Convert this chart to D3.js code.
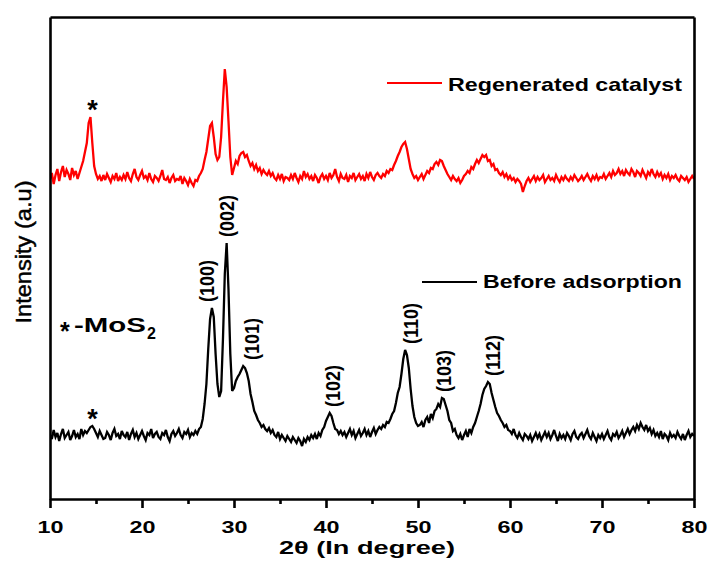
<!DOCTYPE html>
<html>
<head>
<meta charset="utf-8">
<script src="https://cdn.jsdelivr.net/npm/d3@7"></script>
<style>
  html, body { margin: 0; padding: 0; background: #ffffff; }
  svg { display: block; font-family: "Liberation Sans", Arial, Helvetica, sans-serif; }
</style>
</head>
<body>
<svg id="chart" width="714" height="561"></svg>
<script>
// XRD patterns, sampled every 0.2 degrees of 2-theta from 10 to 80
const angleStart = 10;
const angleStep = 0.2;

const beforeAdsorption = [
  640, 600, 690, 620, 660, 580, 650, 700, 610, 640,
  670, 590, 630, 690, 620, 650, 600, 700, 640, 680,
  660, 690, 720, 730, 700, 660, 620, 680, 640, 600,
  610, 670, 640, 590, 660, 700, 630, 650, 600, 680,
  640, 620, 670, 590, 650, 690, 620, 660, 600, 640,
  680, 630, 590, 660, 640, 700, 610, 650, 670, 620,
  600, 660, 640, 690, 620, 580, 650, 680, 630, 660,
  700, 640, 610, 670, 650, 690, 620, 660, 640, 680,
  650, 700, 720, 800, 950, 1150, 1500, 1800, 1910, 1820,
  1450, 1150, 1020, 1080, 1600, 2250, 2560, 2100, 1450, 1080,
  1110, 1180, 1220, 1250, 1290, 1330, 1310, 1260, 1180, 1050,
  970, 880, 840, 790, 760, 720, 740, 700, 680, 710,
  660, 690, 640, 620, 670, 600, 640, 610, 580, 630,
  600, 570, 620, 590, 560, 610, 580, 530, 600, 570,
  620, 590, 640, 610, 650, 600, 660, 630, 690, 720,
  780, 820, 860, 830, 760, 700, 690, 650, 680, 640,
  670, 620, 660, 700, 640, 680, 610, 650, 690, 630,
  660, 700, 640, 680, 620, 670, 710, 650, 690, 720,
  700, 740, 720, 770, 760, 800, 850, 880, 960, 1060,
  1120, 1250, 1400, 1490, 1440, 1310, 1100, 930, 820, 760,
  730, 740, 770, 720, 790, 820, 760, 850, 810, 880,
  900, 950, 920, 1010, 1000, 940, 880, 790, 760, 680,
  700, 640, 610, 650, 590, 640, 680, 620, 700, 660,
  720, 760, 820, 880, 950, 1040, 1100, 1130, 1170, 1150,
  1060, 990, 920, 860, 830, 790, 760, 720, 740, 690,
  680, 650, 700, 640, 610, 660, 620, 590, 650, 630,
  600, 640, 580, 620, 660, 610, 650, 590, 630, 670,
  620, 660, 600, 640, 690, 630, 580, 650, 610, 640,
  600, 660, 630, 590, 650, 680, 620, 600, 640, 660,
  610, 650, 690, 630, 600, 660, 620, 580, 640, 610,
  650, 600, 640, 680, 620, 590, 650, 630, 670, 610,
  640, 680, 620, 660, 700, 650, 690, 720, 680, 740,
  700, 760, 720, 690, 740, 680, 710, 650, 690, 630,
  660, 620, 680, 600, 650, 630, 590, 660, 620, 640,
  610, 670, 630, 600, 650, 590, 640, 680, 620, 650,
  630
];

const regeneratedCatalyst = [
  3200, 3260, 3150, 3240, 3300, 3180, 3270, 3330, 3220, 3290,
  3250, 3190, 3310, 3240, 3280, 3200, 3260, 3320, 3380, 3470,
  3560, 3760, 3820, 3560, 3330, 3250, 3200, 3230, 3180, 3240,
  3190, 3250, 3210, 3170, 3230, 3200, 3260, 3180, 3220, 3190,
  3240, 3200, 3270, 3210, 3180, 3250, 3300, 3220, 3190, 3240,
  3280, 3210, 3230, 3190, 3260, 3200, 3170, 3230, 3210, 3180,
  3230, 3290, 3200, 3190, 3220, 3160, 3210, 3240, 3180, 3200,
  3190, 3230, 3150, 3210, 3180, 3140, 3200, 3160, 3130, 3190,
  3180, 3230, 3260, 3300, 3390, 3470, 3600, 3730, 3760, 3620,
  3450, 3390, 3420, 3620, 3980, 4300, 4120, 3780, 3420, 3240,
  3310, 3380, 3350, 3430, 3460, 3470, 3420, 3440, 3380, 3330,
  3360, 3300, 3340, 3280, 3310, 3250, 3290, 3260, 3240, 3280,
  3230, 3260, 3210, 3190, 3240, 3200, 3250, 3180, 3220, 3210,
  3190, 3240, 3200, 3260, 3210, 3170, 3230, 3200, 3280, 3220,
  3250, 3200, 3230, 3180, 3240, 3210, 3160, 3220, 3250, 3200,
  3230, 3190, 3260, 3210, 3240, 3300, 3220, 3180, 3250, 3210,
  3200, 3240, 3170, 3230, 3210, 3260, 3190, 3220, 3250, 3200,
  3230, 3180, 3250, 3210, 3270, 3220, 3190, 3240, 3260, 3230,
  3210, 3250, 3230, 3280, 3260, 3300, 3290, 3340, 3380, 3430,
  3470, 3520, 3550, 3570, 3500, 3400, 3300, 3250, 3210, 3230,
  3190, 3220, 3250, 3200, 3240, 3280, 3260, 3310, 3300, 3350,
  3370, 3340, 3390, 3380, 3330, 3290, 3250, 3220, 3190, 3230,
  3200, 3180, 3210, 3160, 3190, 3230, 3250, 3280, 3260, 3320,
  3300, 3350, 3390, 3360, 3400, 3440, 3420, 3440, 3380, 3390,
  3330, 3350, 3290, 3300, 3260, 3240, 3270, 3220, 3250, 3200,
  3230, 3190, 3210, 3170, 3200, 3180, 3150, 3070, 3130, 3180,
  3210, 3170, 3200, 3230, 3180, 3220, 3190, 3210, 3240, 3170,
  3200, 3230, 3190, 3210, 3180, 3240, 3200, 3170, 3220, 3190,
  3230, 3200, 3180, 3220, 3190, 3240, 3210, 3180, 3200, 3230,
  3190, 3220, 3250, 3210, 3180, 3230, 3200, 3240, 3190, 3220,
  3210, 3250, 3200, 3230, 3260, 3220, 3280, 3240, 3260, 3300,
  3250, 3280, 3230, 3290, 3260, 3240, 3300, 3270, 3220, 3280,
  3260, 3230, 3290, 3250, 3210, 3270, 3240, 3300, 3250, 3220,
  3270, 3230, 3260, 3200, 3240, 3210, 3250, 3190, 3230, 3210,
  3240, 3200, 3180, 3230, 3210, 3190, 3220, 3170, 3200, 3230,
  3200
];

const seriesNames = ["Regenerated catalyst", "Before adsorption"];
const seriesColors = ["#ff0000", "#000000"];

const xTicks = [10, 20, 30, 40, 50, 60, 70, 80];
const xMinorTicks = [15, 25, 35, 45, 55, 65, 75];

// Miller indices of the MoS2 reflections, with the 2-theta where each label sits
const peakLabels = ["(100)", "(002)", "(101)", "(102)", "(110)", "(103)", "(112)"];
const peakLabelAngles = [27.0, 29.2, 31.95, 40.7, 49.2, 52.8, 58.1];
const mos2MarkerAngle = 14.5;

// ---------------------------------------------------------------
const svg = d3.select("#chart");
const margin = { left: 50, right: 20, top: 17, bottom: 62 };
const width = 714, height = 561;
const plotLeft = margin.left, plotRight = width - margin.right;
const plotTop = margin.top, plotBottom = height - margin.bottom;

const x = d3.scaleLinear().domain([10, 80]).range([plotLeft, plotRight]);
const y = d3.scaleLinear().domain([0, 4820]).range([plotBottom, plotTop]);

const toPoints = arr => arr.map((v, i) => [angleStart + i * angleStep, v]);
const series = [toPoints(regeneratedCatalyst), toPoints(beforeAdsorption)];

svg.append("defs").append("clipPath").attr("id", "plot-clip")
  .append("rect")
  .attr("x", plotLeft).attr("y", plotTop)
  .attr("width", plotRight - plotLeft).attr("height", plotBottom - plotTop);

const line = d3.line().x(d => x(d[0])).y(d => y(d[1]));

svg.append("g").attr("clip-path", "url(#plot-clip)")
  .selectAll("path")
  .data(series)
  .join("path")
  .attr("d", line)
  .attr("fill", "none")
  .attr("stroke", (d, i) => seriesColors[i])
  .attr("stroke-width", 2.3)
  .attr("stroke-linejoin", "miter")
  .attr("stroke-miterlimit", 3);

// Frame: bottom axis with major + minor ticks, plain left/top/right edges
const axisStroke = 2.6;
const bottomAxis = svg.append("g")
  .attr("transform", `translate(0,${plotBottom})`)
  .call(d3.axisBottom(x).tickValues(xTicks).tickFormat(d3.format("d"))
    .tickSize(9).tickSizeOuter(0).tickPadding(13));
const minorAxis = svg.append("g")
  .attr("transform", `translate(0,${plotBottom})`)
  .call(d3.axisBottom(x).tickValues(xMinorTicks).tickFormat("")
    .tickSize(5).tickSizeOuter(0));
minorAxis.select(".domain").remove();

svg.append("g").attr("transform", `translate(${plotLeft},0)`)
  .call(d3.axisLeft(y).tickValues([]).tickSizeOuter(0));
svg.append("g").attr("transform", `translate(${plotRight},0)`)
  .call(d3.axisRight(y).tickValues([]).tickSizeOuter(0));
svg.append("g").attr("transform", `translate(0,${plotTop})`)
  .call(d3.axisTop(x).tickValues([]).tickSizeOuter(0));

svg.selectAll(".domain, .tick line")
  .attr("stroke", "#000").attr("stroke-width", axisStroke);

bottomAxis.selectAll(".tick text")
  .attr("fill", "#000")
  .attr("font-family", "'Liberation Sans', Arial, sans-serif")
  .attr("font-size", 17)
  .attr("font-weight", "bold")
  .attr("textLength", 26)
  .attr("lengthAdjust", "spacingAndGlyphs");

// Axis titles
svg.append("text")
  .attr("x", 367).attr("y", 554)
  .attr("text-anchor", "middle")
  .attr("font-size", 19).attr("font-weight", "bold")
  .attr("textLength", 176).attr("lengthAdjust", "spacingAndGlyphs")
  .text("2θ (In degree)");

svg.append("text")
  .attr("transform", "translate(31,252) rotate(-90)")
  .attr("text-anchor", "middle")
  .attr("font-size", 22)
  .attr("stroke", "#000").attr("stroke-width", 0.45)
  .attr("textLength", 143).attr("lengthAdjust", "spacingAndGlyphs")
  .text("Intensity (a.u)");

// Legend entries, each beside its own trace
const legendRows = [
  { x1: 387, x2: 442, ly: 83, tx: 448, ty: 90.5, tl: 234 },
  { x1: 422, x2: 477, ly: 282, tx: 483, ty: 288, tl: 199 }
];
legendRows.forEach((r, i) => {
  svg.append("line")
    .attr("x1", r.x1).attr("x2", r.x2).attr("y1", r.ly).attr("y2", r.ly)
    .attr("stroke", seriesColors[i]).attr("stroke-width", 1.8);
  svg.append("text")
    .attr("x", r.tx).attr("y", r.ty)
    .attr("font-size", 18.5).attr("font-weight", "bold")
    .attr("textLength", r.tl).attr("lengthAdjust", "spacingAndGlyphs")
    .text(seriesNames[i]);
});

// Local maximum of a trace around a given angle
function localMax(points, angle, halfWidth) {
  return d3.max(points.filter(p => Math.abs(p[0] - angle) <= halfWidth), p => p[1]);
}

// Miller-index labels above the reflections of the pristine sample
peakLabels.forEach((lab, i) => {
  const a = peakLabelAngles[i];
  const top = y(localMax(series[1], a, 1.0)) - 6;
  svg.append("text")
    .attr("transform", `translate(${x(a)},${top}) scale(1.15,1) rotate(-90)`)
    .attr("dy", "0.36em")
    .attr("font-size", 18).attr("font-weight", "bold")
    .text(lab);
});

// MoS2 reflection markers on both traces
series.forEach(pts => {
  const peakY = y(localMax(pts, mos2MarkerAngle, 0.4));
  svg.append("text")
    .attr("x", x(mos2MarkerAngle) + 1).attr("y", peakY + 2)
    .attr("text-anchor", "middle")
    .attr("font-size", 27).attr("font-weight", "bold")
    .text("*");
});

// Marker key: "* -MoS2"
svg.append("text")
  .attr("x", 60).attr("y", 340)
  .attr("font-size", 25).attr("font-weight", "bold")
  .text("*");
const key = svg.append("text")
  .attr("x", 74).attr("y", 332)
  .attr("font-size", 20.5).attr("font-weight", "bold");
key.append("tspan").attr("textLength", 72).attr("lengthAdjust", "spacingAndGlyphs").text("-MoS");
key.append("tspan").attr("x", 147).attr("y", 339).attr("font-size", 16).text("2");
</script>
</body>
</html>
